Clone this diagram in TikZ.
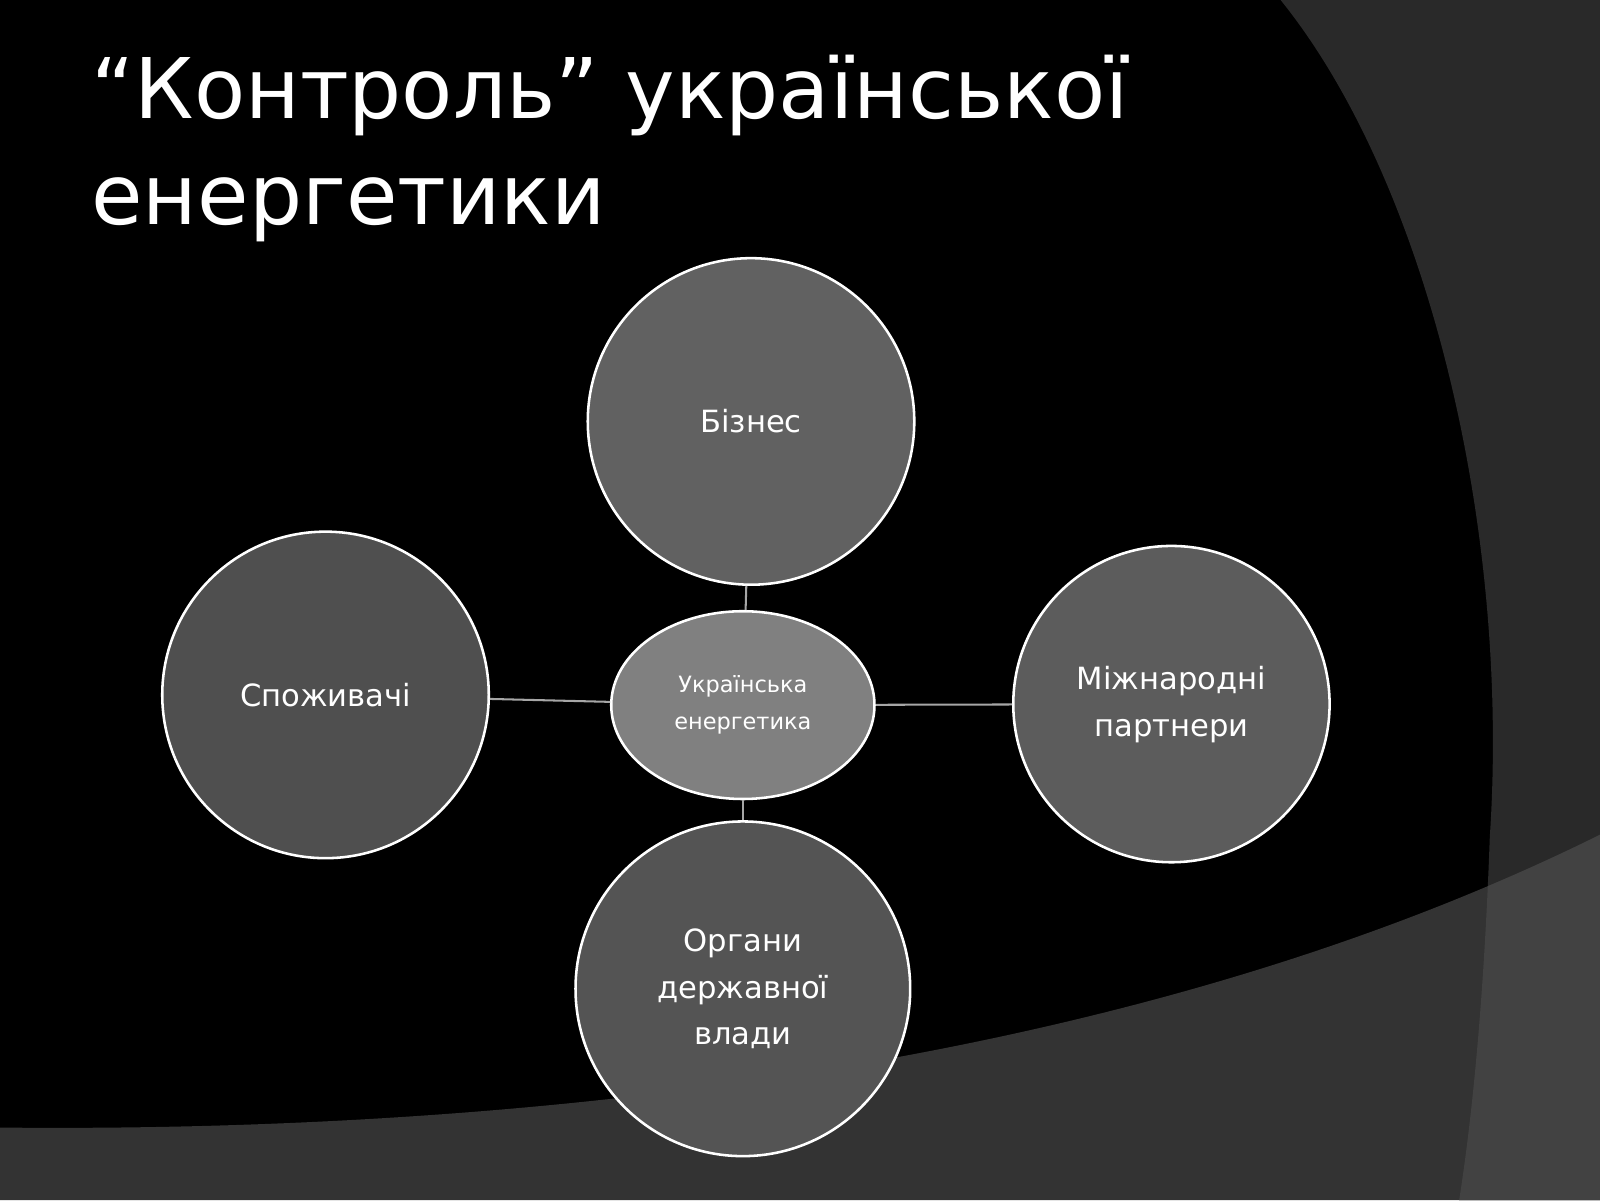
\documentclass[tikz,border=0pt]{standalone}
\usetikzlibrary{shapes.geometric}
\usepackage{fontspec}
\setmainfont{DejaVu Sans}
\begin{document}
\begin{tikzpicture}[x=1pt,y=-1pt,
 circ/.style={circle,draw=white,line width=2.5pt,fill=#1,text=white,align=center,font=\fontsize{30}{46}\selectfont},
 conn/.style={draw=gray!70,line width=2pt}]
\useasboundingbox (0,0) rectangle (1568,1176);
\fill[black] (0,0) rectangle (1568,1176);
% right arc region
\fill[black!84] (1255,0) .. controls (1400,180) and (1480,520) .. (1460,820) .. controls (1455,960) and (1445,1080) .. (1430,1176) -- (1568,1176) -- (1568,0) -- cycle;
% bottom band
\fill[black!80] (0,1105) .. controls (500,1110) and (1100,1050) .. (1568,818) -- (1568,1176) -- (0,1176) -- cycle;
\begin{scope}
\clip (0,1105) .. controls (500,1110) and (1100,1050) .. (1568,818) -- (1568,1176) -- (0,1176) -- cycle;
\fill[black!74] (1255,0) .. controls (1400,180) and (1480,520) .. (1460,820) .. controls (1455,960) and (1445,1080) .. (1430,1176) -- (1568,1176) -- (1568,0) -- cycle;
\end{scope}
\node[anchor=base west,text=white,font=\fontsize{82}{100}\selectfont] (t1) at (86,116) {“Контроль” української};
\node[anchor=base west,text=white,font=\fontsize{82}{100}\selectfont] (t2) at (86,220) {енергетики};
\node[circ=black!62,minimum size=320pt] (b) at (736,413) {Бізнес};
\node[circ=black!69,minimum size=320pt] (s) at (319,681) {Споживачі};
\node[circ=black!64,minimum size=310pt] (m) at (1148,690) {Міжнародні\\партнери};
\node[circ=black!67,minimum size=328pt] (o) at (728,969) {Органи\\державної\\влади};
\node[ellipse,draw=white,line width=2.5pt,fill=black!50,text=white,minimum width=258pt,minimum height=184pt,align=center,font=\fontsize{22}{36}\selectfont,inner sep=0pt] (c) at (728,691) {Українська\\енергетика};
\draw[conn] (b) -- (c); \draw[conn] (s) -- (c); \draw[conn] (m) -- (c); \draw[conn] (o) -- (c);
\end{tikzpicture}
\end{document}
